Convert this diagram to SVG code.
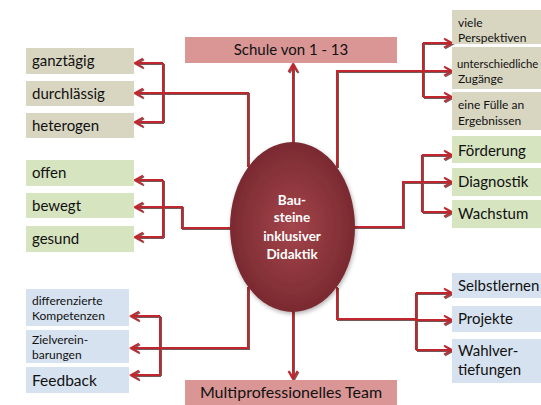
<svg xmlns="http://www.w3.org/2000/svg" width="541" height="405" viewBox="0 0 541 405">
<defs>
<radialGradient id="eg" cx="0.5" cy="0.5" r="0.5">
<stop offset="0" stop-color="#a4454c"/>
<stop offset="1" stop-color="#7a2a30"/>
</radialGradient>
<marker id="ah" markerUnits="userSpaceOnUse" markerWidth="12" markerHeight="12" refX="10" refY="6" orient="auto">
<polyline points="2,1.5 10,6 2,10.5" fill="none" stroke="#c0282e" stroke-width="2"/>
</marker>
<filter id="sh" x="-10%" y="-10%" width="130%" height="130%">
<feDropShadow dx="1" dy="1" stdDeviation="0.4" flood-color="#3a0a0a" flood-opacity="0.7"/>
</filter>
<filter id="esh" x="-20%" y="-20%" width="140%" height="140%">
<feDropShadow dx="1" dy="2" stdDeviation="2" flood-color="#000" flood-opacity="0.3"/>
</filter>
</defs>
<style>
.t{font-family:Lato,"Open Sans","Liberation Sans",sans-serif;fill:#111}
.l{font-size:15px}
.s{font-size:12px}
.tan{fill:#d8d6c1}
.grn{fill:#d6e4bf}
.blu{fill:#d6e2ef}
.pnk{fill:#d99695}
.c{fill:none;stroke:#c0282e;stroke-width:2}
.a{fill:none;stroke:#c0282e;stroke-width:2;marker-end:url(#ah)}
.w{font-family:Lato,"Open Sans","Liberation Sans",sans-serif;font-size:13.5px;font-weight:bold;fill:#fff;text-anchor:middle}
</style>
<rect width="541" height="405" fill="#fff"/>

<g id="connectors" filter="url(#sh)">
<path class="c" d="M248,167 V93 H163"/>
<path class="c" d="M163,63 V122"/>
<path class="a" d="M163,63 H135"/>
<path class="a" d="M163,93 H135"/>
<path class="a" d="M163,122 H135"/>

<path class="c" d="M232,228 H182 V207 H163"/>
<path class="c" d="M163,180 V237"/>
<path class="a" d="M163,180 H135"/>
<path class="a" d="M163,207 H135"/>
<path class="a" d="M163,237 H135"/>

<path class="c" d="M248,287 V348 H160"/>
<path class="c" d="M160,316 V375"/>
<path class="a" d="M160,316 H131"/>
<path class="a" d="M160,348 H131"/>
<path class="a" d="M160,375 H131"/>

<path class="c" d="M337,167 V71 H423"/>
<path class="c" d="M423,43 V97"/>
<path class="a" d="M423,43 H452"/>
<path class="a" d="M423,71 H452"/>
<path class="a" d="M423,97 H452"/>

<path class="c" d="M353,227 H403 V182 H422"/>
<path class="c" d="M422,155 V212"/>
<path class="a" d="M422,155 H452"/>
<path class="a" d="M422,182 H452"/>
<path class="a" d="M422,212 H452"/>

<path class="c" d="M337,287 V319 H416"/>
<path class="c" d="M416,293 V350"/>
<path class="a" d="M416,293 H452"/>
<path class="a" d="M416,320 H452"/>
<path class="a" d="M416,350 H452"/>

<path class="a" d="M293,145 V64"/>
<path class="a" d="M293,310 V379"/>
</g>

<g id="center">
<ellipse cx="292.5" cy="227" rx="62.5" ry="85" fill="url(#eg)" filter="url(#esh)"/>
<text class="w" x="292" y="205">Bau-</text>
<text class="w" x="292" y="222">steine</text>
<text class="w" x="292" y="241">inklusiver</text>
<text class="w" x="292" y="259">Didaktik</text>
</g>

<g id="top"><rect class="pnk" x="185" y="37" width="212" height="26"/><text class="t l" x="291" y="55" text-anchor="middle">Schule von 1 - 13</text></g>
<g id="bottom"><rect class="pnk" x="185" y="380" width="212" height="25"/><text class="t" x="291" y="398" text-anchor="middle" font-size="16">Multiprofessionelles Team</text></g>

<g id="ganztaegig"><rect class="tan" x="26" y="48" width="108" height="26"/><text class="t l" x="32" y="66">ganztägig</text></g>
<g id="durchlaessig"><rect class="tan" x="26" y="81" width="108" height="25"/><text class="t l" x="32" y="99">durchlässig</text></g>
<g id="heterogen"><rect class="tan" x="26" y="113" width="108" height="25"/><text class="t l" x="32" y="131">heterogen</text></g>

<g id="offen"><rect class="grn" x="26" y="160" width="108" height="26"/><text class="t l" x="32" y="178">offen</text></g>
<g id="bewegt"><rect class="grn" x="26" y="193" width="108" height="25"/><text class="t l" x="32" y="211">bewegt</text></g>
<g id="gesund"><rect class="grn" x="26" y="226" width="108" height="26"/><text class="t l" x="32" y="244">gesund</text></g>

<g id="differenzierte"><rect class="blu" x="26" y="289" width="103" height="37"/><text class="t s" x="32" y="305">differenzierte</text><text class="t s" x="32" y="320">Kompetenzen</text></g>
<g id="zielvereinbarungen"><rect class="blu" x="26" y="330" width="103" height="33"/><text class="t s" x="32" y="344">Zielverein-</text><text class="t s" x="32" y="359">barungen</text></g>
<g id="feedback"><rect class="blu" x="26" y="367" width="103" height="26"/><text class="t" x="32" y="386" font-size="15.5">Feedback</text></g>

<g id="perspektiven"><rect class="tan" x="452" y="10" width="89" height="34"/><text class="t s" x="458" y="27">viele</text><text class="t s" x="458" y="42">Perspektiven</text></g>
<g id="zugaenge"><rect class="tan" x="452" y="47" width="89" height="42"/><text class="t" x="457" y="68" font-size="11.3">unterschiedliche</text><text class="t s" x="458" y="83">Zugänge</text></g>
<g id="ergebnisse"><rect class="tan" x="452" y="92" width="89" height="38"/><text class="t s" x="458" y="109">eine Fülle an</text><text class="t s" x="458" y="125">Ergebnissen</text></g>

<g id="foerderung"><rect class="grn" x="452" y="136" width="89" height="27"/><text class="t l" x="458" y="156">Förderung</text></g>
<g id="diagnostik"><rect class="grn" x="452" y="168" width="89" height="28"/><text class="t l" x="458" y="187">Diagnostik</text></g>
<g id="wachstum"><rect class="grn" x="452" y="200" width="89" height="28"/><text class="t l" x="458" y="219">Wachstum</text></g>

<g id="selbstlernen"><rect class="blu" x="452" y="273" width="89" height="25"/><text class="t l" x="458" y="291">Selbstlernen</text></g>
<g id="projekte"><rect class="blu" x="452" y="306" width="89" height="26"/><text class="t l" x="458" y="324">Projekte</text></g>
<g id="wahlvertiefungen"><rect class="blu" x="452" y="339" width="89" height="44"/><text class="t l" x="458" y="356">Wahlver-</text><text class="t l" x="458" y="375">tiefungen</text></g>
</svg>
